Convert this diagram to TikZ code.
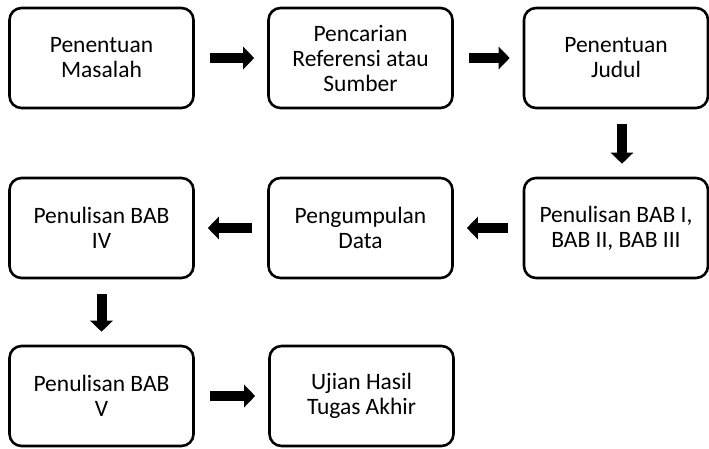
\documentclass[tikz,border=0pt]{standalone}
\usepackage{fontspec}
\setmainfont{Carlito}
\usepackage{tikz}
\usetikzlibrary{arrows.meta}

\tikzset{
  langkah/.style={draw, line width=2.6pt, rounded corners=12pt, minimum width=184pt,
    minimum height=100pt, align=center, font=\fontsize{23.5}{25}\selectfont},
  panah/.style={line width=10pt, -{Triangle[width=22pt, length=11pt]},
    shorten <=15pt, shorten >=13pt}
}

\begin{document}
\begin{tikzpicture}[x=1pt, y=-1pt]
\useasboundingbox (0,0) rectangle (709,448);
\node[langkah] (masalah) at (101.5,58) {Penentuan\\Masalah};
\node[langkah] (referensi) at (360.5,58) {Pencarian\\Referensi atau\\Sumber};
\node[langkah] (judul) at (616,58) {Penentuan\\Judul};
\node[langkah] (bab123) at (616,228) {Penulisan BAB I,\\BAB II, BAB III};
\node[langkah] (data) at (360.5,228) {Pengumpulan\\Data};
\node[langkah] (bab4) at (101.5,228) {Penulisan BAB\\IV};
\node[langkah] (bab5) at (101.5,396) {Penulisan BAB\\V};
\node[langkah] (ujian) at (361.5,396) {Ujian Hasil\\Tugas Akhir};
\draw[panah] (masalah) -- (referensi);
\draw[panah] (referensi) -- (judul);
\draw[panah] ([xshift=6pt]judul.south) -- ([xshift=6pt]bab123.north);
\draw[panah] (bab123) -- (data);
\draw[panah] (data) -- (bab4);
\draw[panah] (bab4) -- (bab5);
\draw[panah] (bab5) -- (ujian);
\end{tikzpicture}
\end{document}
